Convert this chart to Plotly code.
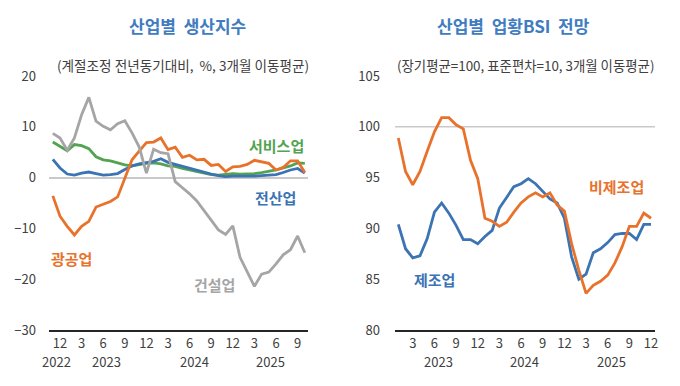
import plotly.graph_objects as go

# ---------------- data ----------------
# Left chart: 2022-11 .. 2025-10 (36 months), index 0..35
prod_months = list(range(36))
construction = [8.7, 7.8, 5.4, 7.8, 12.4, 15.8, 11.1, 10.1, 9.4, 10.6, 11.2, 8.8,
                6.0, 0.9, 5.6, 4.9, 4.7, -0.8, -2.0, -3.2, -4.6, -6.5, -8.5, -10.3,
                -11.2, -9.5, -15.7, -18.5, -21.4, -19.0, -18.6, -17.0, -15.2, -14.2, -11.5, -14.8]
mining_mfg = [-3.6, -7.6, -9.6, -11.3, -9.6, -8.6, -5.8, -5.3, -4.7, -3.8, 0.0, 3.5,
              5.2, 6.9, 7.0, 7.8, 5.5, 6.0, 4.0, 4.4, 3.5, 3.6, 2.4, 2.6,
              1.2, 2.1, 2.2, 2.6, 3.4, 3.1, 2.8, 1.5, 2.0, 3.3, 3.3, 1.0]
services = [7.0, 6.2, 5.3, 6.5, 6.3, 5.7, 4.1, 3.5, 3.3, 2.9, 2.5, 2.3,
            2.6, 2.8, 2.9, 2.7, 2.3, 2.2, 1.8, 1.5, 1.1, 0.8, 0.6, 0.5,
            0.6, 0.8, 0.7, 0.7, 0.8, 1.0, 1.2, 1.5, 1.9, 2.3, 2.9, 2.8]
all_industry = [3.6, 1.9, 0.7, 0.5, 0.9, 1.1, 0.8, 0.5, 0.6, 0.8, 1.6, 2.3,
                2.7, 2.9, 3.2, 3.7, 3.0, 2.6, 2.2, 1.8, 1.4, 1.0, 0.7, 0.4,
                0.2, 0.3, 0.3, 0.2, 0.3, 0.4, 0.5, 0.6, 1.0, 1.5, 1.8, 0.9]
prod_tickvals = [1, 4, 7, 10, 13, 16, 19, 22, 25, 28, 31, 34]
prod_ticktext = ["12", "3", "6", "9", "12", "3", "6", "9", "12", "3", "6", "9"]
prod_years = ["2022", "2023", "2024", "2025"]
prod_year_pos = [0.5, 7.5, 19.7, 30.2]

# Right chart: 2023-01 .. 2025-12 (36 months), index 0..35
bsi_months = list(range(36))
non_mfg = [98.9, 95.6, 94.3, 95.6, 97.6, 99.5, 100.9, 100.9, 100.2, 99.8, 96.7, 94.9,
           91.0, 90.7, 90.2, 90.6, 91.6, 92.5, 93.1, 93.5, 93.1, 93.5, 92.3, 91.7,
           88.5, 85.9, 83.6, 84.4, 84.8, 85.4, 86.6, 88.2, 90.2, 90.2, 91.5, 91.0]
mfg = [90.4, 88.0, 87.1, 87.3, 89.0, 91.6, 92.5, 91.5, 90.3, 88.9, 88.9, 88.5,
       89.2, 89.8, 92.0, 93.1, 94.1, 94.4, 94.9, 94.4, 93.6, 92.9, 92.5, 91.0,
       87.2, 85.0, 85.5, 87.6, 88.0, 88.6, 89.4, 89.5, 89.5, 88.9, 90.4, 90.4]
bsi_tickvals = [2, 5, 8, 11, 14, 17, 20, 23, 26, 29, 32, 35]
bsi_ticktext = ["3", "6", "9", "12", "3", "6", "9", "12", "3", "6", "9", "12"]
bsi_years = ["2023", "2024", "2025"]
bsi_year_pos = [5.5, 17.5, 29.5]

# ---------------- style ----------------
FONT = "Noto Sans CJK KR"
ORANGE = "#e8722c"
BLUE = "#3b73b3"
GREEN = "#52a352"
GRAY = "#a5a5a5"
TITLE_BLUE = "#3f7cc0"
TXT = "#404040"
W, H = 680, 386

fig = go.Figure()
lw = 2.8
fig.add_trace(go.Scatter(x=prod_months, y=services, mode="lines", line=dict(color=GREEN, width=lw), xaxis="x", yaxis="y"))
fig.add_trace(go.Scatter(x=prod_months, y=all_industry, mode="lines", line=dict(color=BLUE, width=lw), xaxis="x", yaxis="y"))
fig.add_trace(go.Scatter(x=prod_months, y=mining_mfg, mode="lines", line=dict(color=ORANGE, width=lw), xaxis="x", yaxis="y"))
fig.add_trace(go.Scatter(x=prod_months, y=construction, mode="lines", line=dict(color=GRAY, width=lw), xaxis="x", yaxis="y"))

fig.add_trace(go.Scatter(x=bsi_months, y=mfg, mode="lines", line=dict(color=BLUE, width=lw), xaxis="x2", yaxis="y2"))
fig.add_trace(go.Scatter(x=bsi_months, y=non_mfg, mode="lines", line=dict(color=ORANGE, width=lw), xaxis="x2", yaxis="y2"))

ytop, ybot = 1 - 76 / H, 1 - 330 / H
tickfont = dict(family=FONT, size=13, color=TXT)

fig.update_layout(
    width=W, height=H, margin=dict(l=0, r=0, t=0, b=0, autoexpand=False),
    paper_bgcolor="white", plot_bgcolor="white", showlegend=False,
    font=dict(family=FONT, color=TXT),
    xaxis=dict(domain=[49 / W, 308 / W], range=[-0.53, 35.44], tickvals=prod_tickvals, ticktext=prod_ticktext,
               showgrid=False, zeroline=False, showline=True, linecolor="#262626", linewidth=2,
               tickfont=tickfont, ticks="", automargin=False, anchor="y"),
    yaxis=dict(domain=[ybot, ytop], range=[-30, 20], tickvals=[-30, -20, -10, 0, 10, 20],
               showgrid=False, zeroline=True, zerolinecolor="#c9c9c9", zerolinewidth=1.5,
               showline=False, tickfont=tickfont, ticks="", ticklabelstandoff=12,
               automargin=False, anchor="x"),
    xaxis2=dict(domain=[395 / W, 655 / W], range=[-0.46, 35.55], tickvals=bsi_tickvals, ticktext=bsi_ticktext,
                showgrid=False, zeroline=False, showline=True, linecolor="#262626", linewidth=2,
                tickfont=tickfont, ticks="", automargin=False, anchor="y2"),
    yaxis2=dict(domain=[ybot, ytop], range=[80, 105], tickvals=[80, 85, 90, 95, 100, 105],
                showgrid=False, zeroline=False, showline=False, tickfont=tickfont, ticks="",
                ticklabelstandoff=14, automargin=False, anchor="x2"),
)

# reference line at 100 in right chart
fig.add_shape(type="line", xref="x2 domain", yref="y2", x0=0, x1=1, y0=100, y1=100,
              line=dict(color="#c9c9c9", width=1.5), layer="below")

ann = []
def txt(x, y, s, size, color, xref="paper", yref="paper", bold=False):
    ann.append(dict(x=x, y=y, xref=xref, yref=yref, text=(f"<b>{s}</b>" if bold else s),
                    showarrow=False, xanchor="center", yanchor="middle",
                    font=dict(family=FONT, size=size, color=color)))

# titles
txt(187.5 / W, 1 - 25 / H, "산업별  생산지수", 17, TITLE_BLUE, bold=True)
txt(513 / W, 1 - 25 / H, "산업별  업황BSI  전망", 17, TITLE_BLUE, bold=True)
txt(182.5 / W, 1 - 65 / H, "(계절조정 전년동기대비,  %, 3개월 이동평균)", 13.6, TXT)
txt(525 / W, 1 - 65 / H, "(장기평균=100, 표준편차=10, 3개월 이동평균)", 13.4, TXT)

# series labels
txt(276.7 / W, 1 - 145 / H, "서비스업", 15, GREEN, bold=True)
txt(275 / W, 1 - 197 / H, "전산업", 15, BLUE, bold=True)
txt(71.7 / W, 1 - 258 / H, "광공업", 15, ORANGE, bold=True)
txt(214.7 / W, 1 - 284 / H, "건설업", 15, GRAY, bold=True)
txt(616.7 / W, 1 - 187 / H, "비제조업", 15, ORANGE, bold=True)
txt(434.7 / W, 1 - 279 / H, "제조업", 15, BLUE, bold=True)

# year labels
for yr, pos in zip(prod_years, prod_year_pos):
    ann.append(dict(x=pos, y=1 - 361 / H, xref="x", yref="paper", text=yr, showarrow=False,
                    xanchor="center", yanchor="middle", font=tickfont))
for yr, pos in zip(bsi_years, bsi_year_pos):
    ann.append(dict(x=pos, y=1 - 361 / H, xref="x2", yref="paper", text=yr, showarrow=False,
                    xanchor="center", yanchor="middle", font=tickfont))

fig.update_layout(annotations=ann)
fig.write_html("out.html", config={"displayModeBar": False},
               post_script="document.body.style.margin='0';document.body.style.overflow='hidden';")
